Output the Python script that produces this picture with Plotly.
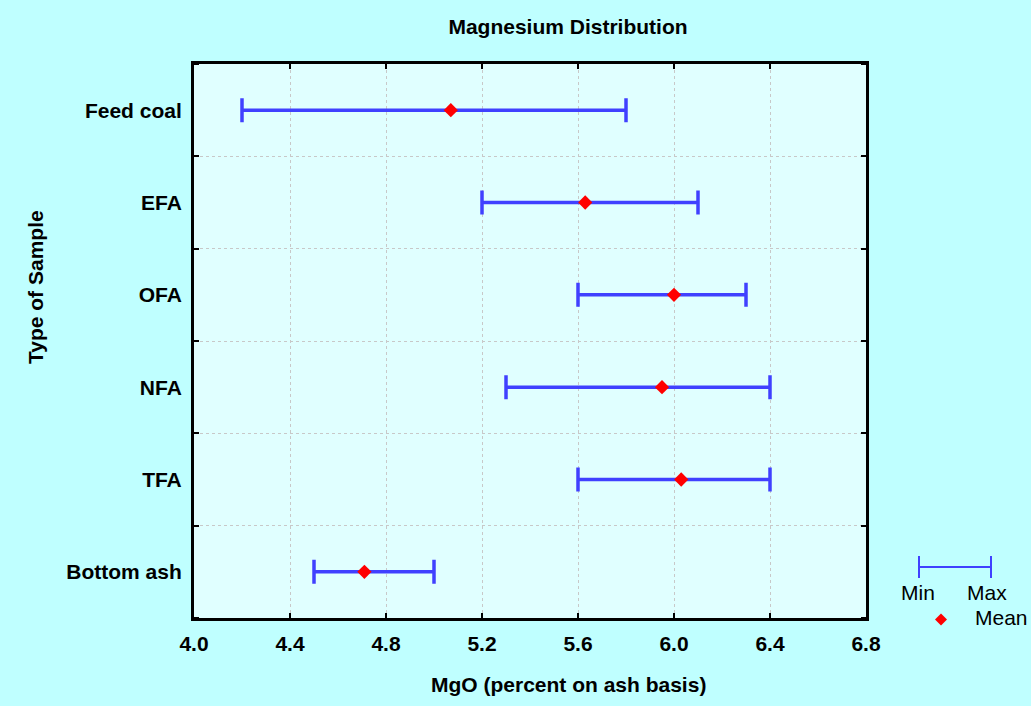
import plotly.graph_objects as go

categories = ["Feed coal", "EFA", "OFA", "NFA", "TFA", "Bottom ash"]
min_vals = [4.2, 5.2, 5.6, 5.3, 5.6, 4.5]
max_vals = [5.8, 6.1, 6.3, 6.4, 6.4, 5.0]
mean_vals = [5.07, 5.63, 6.00, 5.95, 6.03, 4.71]
x_ticks = [4.0, 4.4, 4.8, 5.2, 5.6, 6.0, 6.4, 6.8]

W, H = 1031, 706
L, R, T, B = 194, 866, 64, 618

BLUE = "rgb(64,64,255)"
RED = "rgb(255,0,0)"
FONT = "Arial, Liberation Sans, sans-serif"
FS = 21

n = len(categories)
ypos = [n - 1 - i for i in range(n)]

fig = go.Figure()
fig.add_trace(go.Scatter(
    x=mean_vals, y=ypos, mode="markers",
    marker=dict(symbol="diamond", color=RED, size=11, line=dict(width=0)),
    error_x=dict(type="data", symmetric=False,
                 array=[mx - m for mx, m in zip(max_vals, mean_vals)],
                 arrayminus=[m - mn for mn, m in zip(min_vals, mean_vals)],
                 color=BLUE, thickness=3.5, width=12),
    showlegend=False, hoverinfo="skip",
))

def px(xp):
    return (xp - L) / (R - L)

def py(yp):
    return (B - yp) / (B - T)

shapes = []
# legend min-max bar
ly = 567
shapes.append(dict(type="line", xref="paper", yref="paper", x0=px(919), x1=px(991), y0=py(ly), y1=py(ly),
                   line=dict(color=BLUE, width=2)))
for xx in (919, 991):
    shapes.append(dict(type="line", xref="paper", yref="paper", x0=px(xx), x1=px(xx), y0=py(ly - 11), y1=py(ly + 11),
                       line=dict(color=BLUE, width=2)))
# legend diamond
cx, cy, r = 941, 619.5, 6
path = f"M {px(cx)} {py(cy - r)} L {px(cx + r)} {py(cy)} L {px(cx)} {py(cy + r)} L {px(cx - r)} {py(cy)} Z"
shapes.append(dict(type="path", xref="paper", yref="paper", path=path, fillcolor=RED, line=dict(width=0)))

txt_font = dict(family=FONT, size=FS, color="black")
annotations = [
    dict(text="Min", x=px(918), y=py(592), xref="paper", yref="paper", showarrow=False,
         xanchor="center", yanchor="middle", font=txt_font),
    dict(text="Max", x=px(986.5), y=py(592), xref="paper", yref="paper", showarrow=False,
         xanchor="center", yanchor="middle", font=txt_font),
    dict(text="Mean", x=px(1001.5), y=py(617), xref="paper", yref="paper", showarrow=False,
         xanchor="center", yanchor="middle", font=txt_font),
    # axis titles
    dict(text="<b>MgO (percent on ash basis)</b>", x=px(568), y=py(684), xref="paper", yref="paper",
         showarrow=False, xanchor="center", yanchor="middle", font=txt_font),
    dict(text="<b>Type of Sample</b>", x=px(35), y=py(287), xref="paper", yref="paper", textangle=-90,
         showarrow=False, xanchor="center", yanchor="middle", font=txt_font),
]

fig.update_layout(
    width=W, height=H,
    margin=dict(l=L, r=W - R, t=T, b=H - B),
    paper_bgcolor="rgb(191,255,255)",
    plot_bgcolor="rgb(224,255,255)",
    title=dict(text="<b>Magnesium Distribution</b>", x=568 / W, xref="container", xanchor="center",
               y=1 - 27 / H, yref="container", yanchor="middle",
               font=dict(family=FONT, size=FS, color="black")),
    shapes=shapes,
    annotations=annotations,
    showlegend=False,
)

fig.update_xaxes(
    range=[4.0, 6.8], tickmode="array", tickvals=x_ticks,
    ticktext=[f"{v:.1f}" for v in x_ticks],
    tickfont=dict(family=FONT, size=FS, color="black", weight="bold"),
    ticks="inside", ticklen=5, tickwidth=2, tickcolor="black",
    showline=True, linewidth=3, linecolor="black", mirror="ticks",
    showgrid=True, gridcolor="rgb(200,200,200)", gridwidth=1, griddash="dot",
    zeroline=False, ticklabelstandoff=5,
)

fig.update_yaxes(
    range=[-0.5, n - 0.5], tickmode="array", tickvals=ypos,
    ticktext=[f"<b>{c}</b>" for c in categories],
    tickfont=dict(family=FONT, size=FS, color="black"),
    ticks="", showgrid=False,
    minor=dict(tickmode="linear", tick0=0.5, dtick=1, ticks="inside", ticklen=5, tickwidth=2,
               tickcolor="black", showgrid=True, gridcolor="rgb(200,200,200)", gridwidth=1, griddash="dot"),
    showline=True, linewidth=3, linecolor="black", mirror="ticks",
    zeroline=False, ticklabelstandoff=5,
)

fig.write_html("out.html", config={"displayModeBar": False},
               post_script="document.body.style.margin='0';document.body.style.overflow='hidden';")
